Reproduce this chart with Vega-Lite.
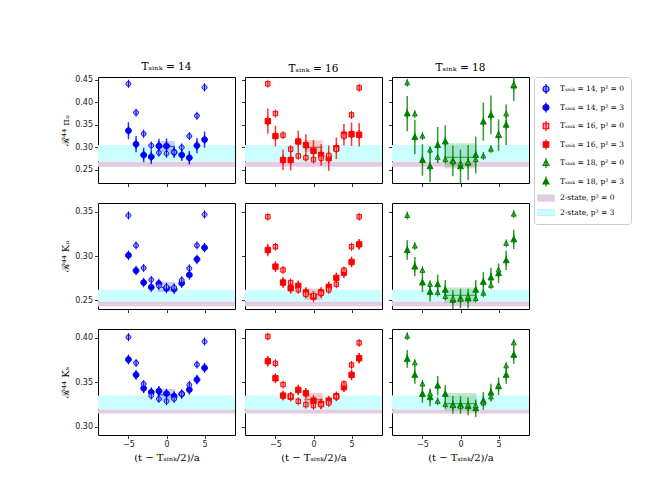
{
"$schema":"https://vega.github.io/schema/vega-lite/v6.json",
"padding":{"left":60,"top":61,"right":5,"bottom":5},
"datasets":{
"pts":[
{"r":1,"T":14,"p":3,"s":"14_3","t":-5,"v":0.337,"e":0.019},{"r":1,"T":14,"p":3,"s":"14_3","t":-4,"v":0.307,"e":0.018},{"r":1,"T":14,"p":3,"s":"14_3","t":-3,"v":0.283,"e":0.016},{"r":1,"T":14,"p":3,"s":"14_3","t":-2,"v":0.279,"e":0.016},{"r":1,"T":14,"p":3,"s":"14_3","t":-1,"v":0.303,"e":0.016},{"r":1,"T":14,"p":3,"s":"14_3","t":0,"v":0.303,"e":0.017},{"r":1,"T":14,"p":3,"s":"14_3","t":1,"v":0.289,"e":0.012},{"r":1,"T":14,"p":3,"s":"14_3","t":2,"v":0.283,"e":0.013},{"r":1,"T":14,"p":3,"s":"14_3","t":3,"v":0.277,"e":0.015},{"r":1,"T":14,"p":3,"s":"14_3","t":4,"v":0.304,"e":0.017},{"r":1,"T":14,"p":3,"s":"14_3","t":5,"v":0.317,"e":0.018},
{"r":1,"T":14,"p":0,"s":"14_0","t":-5,"v":0.441},{"r":1,"T":14,"p":0,"s":"14_0","t":-4,"v":0.377},{"r":1,"T":14,"p":0,"s":"14_0","t":-3,"v":0.330},{"r":1,"T":14,"p":0,"s":"14_0","t":-2,"v":0.304},{"r":1,"T":14,"p":0,"s":"14_0","t":-1,"v":0.288},{"r":1,"T":14,"p":0,"s":"14_0","t":0,"v":0.286},{"r":1,"T":14,"p":0,"s":"14_0","t":1,"v":0.289},{"r":1,"T":14,"p":0,"s":"14_0","t":2,"v":0.300},{"r":1,"T":14,"p":0,"s":"14_0","t":3,"v":0.325},{"r":1,"T":14,"p":0,"s":"14_0","t":4,"v":0.370},{"r":1,"T":14,"p":0,"s":"14_0","t":5,"v":0.433},
{"r":1,"T":16,"p":3,"s":"16_3","t":-6,"v":0.358,"e":0.028},{"r":1,"T":16,"p":3,"s":"16_3","t":-5,"v":0.325,"e":0.023},{"r":1,"T":16,"p":3,"s":"16_3","t":-4,"v":0.272,"e":0.023},{"r":1,"T":16,"p":3,"s":"16_3","t":-3,"v":0.272,"e":0.023},{"r":1,"T":16,"p":3,"s":"16_3","t":-2,"v":0.313,"e":0.024},{"r":1,"T":16,"p":3,"s":"16_3","t":-1,"v":0.305,"e":0.024},{"r":1,"T":16,"p":3,"s":"16_3","t":0,"v":0.292,"e":0.024},{"r":1,"T":16,"p":3,"s":"16_3","t":1,"v":0.283,"e":0.024},{"r":1,"T":16,"p":3,"s":"16_3","t":2,"v":0.276,"e":0.028},{"r":1,"T":16,"p":3,"s":"16_3","t":3,"v":0.298,"e":0.024},{"r":1,"T":16,"p":3,"s":"16_3","t":4,"v":0.328,"e":0.024},{"r":1,"T":16,"p":3,"s":"16_3","t":5,"v":0.329,"e":0.026},{"r":1,"T":16,"p":3,"s":"16_3","t":6,"v":0.328,"e":0.026},
{"r":1,"T":16,"p":0,"s":"16_0","t":-6,"v":0.441},{"r":1,"T":16,"p":0,"s":"16_0","t":-5,"v":0.375},{"r":1,"T":16,"p":0,"s":"16_0","t":-4,"v":0.327},{"r":1,"T":16,"p":0,"s":"16_0","t":-3,"v":0.296},{"r":1,"T":16,"p":0,"s":"16_0","t":-2,"v":0.281},{"r":1,"T":16,"p":0,"s":"16_0","t":-1,"v":0.277},{"r":1,"T":16,"p":0,"s":"16_0","t":0,"v":0.273},{"r":1,"T":16,"p":0,"s":"16_0","t":1,"v":0.276},{"r":1,"T":16,"p":0,"s":"16_0","t":2,"v":0.282},{"r":1,"T":16,"p":0,"s":"16_0","t":3,"v":0.296},{"r":1,"T":16,"p":0,"s":"16_0","t":4,"v":0.325},{"r":1,"T":16,"p":0,"s":"16_0","t":5,"v":0.372},{"r":1,"T":16,"p":0,"s":"16_0","t":6,"v":0.432},
{"r":1,"T":18,"p":3,"s":"18_3","t":-7,"v":0.375,"e":0.039},{"r":1,"T":18,"p":3,"s":"18_3","t":-6,"v":0.323,"e":0.038},{"r":1,"T":18,"p":3,"s":"18_3","t":-5,"v":0.272,"e":0.035},{"r":1,"T":18,"p":3,"s":"18_3","t":-4,"v":0.258,"e":0.035},{"r":1,"T":18,"p":3,"s":"18_3","t":-3,"v":0.305,"e":0.040},{"r":1,"T":18,"p":3,"s":"18_3","t":-2,"v":0.313,"e":0.036},{"r":1,"T":18,"p":3,"s":"18_3","t":-1,"v":0.270,"e":0.034},{"r":1,"T":18,"p":3,"s":"18_3","t":0,"v":0.258,"e":0.037},{"r":1,"T":18,"p":3,"s":"18_3","t":1,"v":0.266,"e":0.039},{"r":1,"T":18,"p":3,"s":"18_3","t":2,"v":0.283,"e":0.041},{"r":1,"T":18,"p":3,"s":"18_3","t":3,"v":0.357,"e":0.042},{"r":1,"T":18,"p":3,"s":"18_3","t":4,"v":0.372,"e":0.043},{"r":1,"T":18,"p":3,"s":"18_3","t":5,"v":0.327,"e":0.035},{"r":1,"T":18,"p":3,"s":"18_3","t":6,"v":0.350,"e":0.045},{"r":1,"T":18,"p":3,"s":"18_3","t":7,"v":0.437,"e":0.034},
{"r":1,"T":18,"p":0,"s":"18_0","t":-7,"v":0.443},{"r":1,"T":18,"p":0,"s":"18_0","t":-6,"v":0.374},{"r":1,"T":18,"p":0,"s":"18_0","t":-5,"v":0.325},{"r":1,"T":18,"p":0,"s":"18_0","t":-4,"v":0.294},{"r":1,"T":18,"p":0,"s":"18_0","t":-3,"v":0.278},{"r":1,"T":18,"p":0,"s":"18_0","t":-2,"v":0.273},{"r":1,"T":18,"p":0,"s":"18_0","t":-1,"v":0.268},{"r":1,"T":18,"p":0,"s":"18_0","t":0,"v":0.264},{"r":1,"T":18,"p":0,"s":"18_0","t":1,"v":0.267},{"r":1,"T":18,"p":0,"s":"18_0","t":2,"v":0.273},{"r":1,"T":18,"p":0,"s":"18_0","t":3,"v":0.281},{"r":1,"T":18,"p":0,"s":"18_0","t":4,"v":0.296},{"r":1,"T":18,"p":0,"s":"18_0","t":5,"v":0.329},{"r":1,"T":18,"p":0,"s":"18_0","t":6,"v":0.374},{"r":1,"T":18,"p":0,"s":"18_0","t":7,"v":0.439},
{"r":2,"T":14,"p":3,"s":"14_3","t":-5,"v":0.3008,"e":0.004},{"r":2,"T":14,"p":3,"s":"14_3","t":-4,"v":0.2835,"e":0.004},{"r":2,"T":14,"p":3,"s":"14_3","t":-3,"v":0.270,"e":0.0035},{"r":2,"T":14,"p":3,"s":"14_3","t":-2,"v":0.2647,"e":0.0035},{"r":2,"T":14,"p":3,"s":"14_3","t":-1,"v":0.2688,"e":0.0035},{"r":2,"T":14,"p":3,"s":"14_3","t":0,"v":0.2632,"e":0.0035},{"r":2,"T":14,"p":3,"s":"14_3","t":1,"v":0.2624,"e":0.0035},{"r":2,"T":14,"p":3,"s":"14_3","t":2,"v":0.2692,"e":0.0035},{"r":2,"T":14,"p":3,"s":"14_3","t":3,"v":0.2786,"e":0.0035},{"r":2,"T":14,"p":3,"s":"14_3","t":4,"v":0.2962,"e":0.004},{"r":2,"T":14,"p":3,"s":"14_3","t":5,"v":0.3094,"e":0.004},
{"r":2,"T":14,"p":0,"s":"14_0","t":-5,"v":0.3459},{"r":2,"T":14,"p":0,"s":"14_0","t":-4,"v":0.312},{"r":2,"T":14,"p":0,"s":"14_0","t":-3,"v":0.2865},{"r":2,"T":14,"p":0,"s":"14_0","t":-2,"v":0.273},{"r":2,"T":14,"p":0,"s":"14_0","t":-1,"v":0.2662},{"r":2,"T":14,"p":0,"s":"14_0","t":0,"v":0.265},{"r":2,"T":14,"p":0,"s":"14_0","t":1,"v":0.2643},{"r":2,"T":14,"p":0,"s":"14_0","t":2,"v":0.2726},{"r":2,"T":14,"p":0,"s":"14_0","t":3,"v":0.286},{"r":2,"T":14,"p":0,"s":"14_0","t":4,"v":0.312},{"r":2,"T":14,"p":0,"s":"14_0","t":5,"v":0.347},
{"r":2,"T":16,"p":3,"s":"16_3","t":-6,"v":0.3068,"e":0.007},{"r":2,"T":16,"p":3,"s":"16_3","t":-5,"v":0.288,"e":0.006},{"r":2,"T":16,"p":3,"s":"16_3","t":-4,"v":0.270,"e":0.006},{"r":2,"T":16,"p":3,"s":"16_3","t":-3,"v":0.2635,"e":0.006},{"r":2,"T":16,"p":3,"s":"16_3","t":-2,"v":0.2662,"e":0.006},{"r":2,"T":16,"p":3,"s":"16_3","t":-1,"v":0.2587,"e":0.006},{"r":2,"T":16,"p":3,"s":"16_3","t":0,"v":0.2541,"e":0.006},{"r":2,"T":16,"p":3,"s":"16_3","t":1,"v":0.2587,"e":0.006},{"r":2,"T":16,"p":3,"s":"16_3","t":2,"v":0.265,"e":0.006},{"r":2,"T":16,"p":3,"s":"16_3","t":3,"v":0.2752,"e":0.006},{"r":2,"T":16,"p":3,"s":"16_3","t":4,"v":0.2812,"e":0.006},{"r":2,"T":16,"p":3,"s":"16_3","t":5,"v":0.2932,"e":0.006},{"r":2,"T":16,"p":3,"s":"16_3","t":6,"v":0.3132,"e":0.006},
{"r":2,"T":16,"p":0,"s":"16_0","t":-6,"v":0.3444},{"r":2,"T":16,"p":0,"s":"16_0","t":-5,"v":0.3105},{"r":2,"T":16,"p":0,"s":"16_0","t":-4,"v":0.2842},{"r":2,"T":16,"p":0,"s":"16_0","t":-3,"v":0.270},{"r":2,"T":16,"p":0,"s":"16_0","t":-2,"v":0.2617},{"r":2,"T":16,"p":0,"s":"16_0","t":-1,"v":0.2568},{"r":2,"T":16,"p":0,"s":"16_0","t":0,"v":0.2549},{"r":2,"T":16,"p":0,"s":"16_0","t":1,"v":0.2579},{"r":2,"T":16,"p":0,"s":"16_0","t":2,"v":0.2617},{"r":2,"T":16,"p":0,"s":"16_0","t":3,"v":0.268},{"r":2,"T":16,"p":0,"s":"16_0","t":4,"v":0.2838},{"r":2,"T":16,"p":0,"s":"16_0","t":5,"v":0.3105},{"r":2,"T":16,"p":0,"s":"16_0","t":6,"v":0.3444},
{"r":2,"T":18,"p":3,"s":"18_3","t":-7,"v":0.3068,"e":0.011},{"r":2,"T":18,"p":3,"s":"18_3","t":-6,"v":0.288,"e":0.011},{"r":2,"T":18,"p":3,"s":"18_3","t":-5,"v":0.270,"e":0.011},{"r":2,"T":18,"p":3,"s":"18_3","t":-4,"v":0.2594,"e":0.011},{"r":2,"T":18,"p":3,"s":"18_3","t":-3,"v":0.268,"e":0.011},{"r":2,"T":18,"p":3,"s":"18_3","t":-2,"v":0.2617,"e":0.011},{"r":2,"T":18,"p":3,"s":"18_3","t":-1,"v":0.2504,"e":0.011},{"r":2,"T":18,"p":3,"s":"18_3","t":0,"v":0.2519,"e":0.011},{"r":2,"T":18,"p":3,"s":"18_3","t":1,"v":0.2519,"e":0.011},{"r":2,"T":18,"p":3,"s":"18_3","t":2,"v":0.2617,"e":0.011},{"r":2,"T":18,"p":3,"s":"18_3","t":3,"v":0.2707,"e":0.011},{"r":2,"T":18,"p":3,"s":"18_3","t":4,"v":0.2756,"e":0.011},{"r":2,"T":18,"p":3,"s":"18_3","t":5,"v":0.2805,"e":0.011},{"r":2,"T":18,"p":3,"s":"18_3","t":6,"v":0.2951,"e":0.011},{"r":2,"T":18,"p":3,"s":"18_3","t":7,"v":0.3188,"e":0.011},
{"r":2,"T":18,"p":0,"s":"18_0","t":-7,"v":0.3459},{"r":2,"T":18,"p":0,"s":"18_0","t":-6,"v":0.3113},{"r":2,"T":18,"p":0,"s":"18_0","t":-5,"v":0.2838},{"r":2,"T":18,"p":0,"s":"18_0","t":-4,"v":0.268},{"r":2,"T":18,"p":0,"s":"18_0","t":-3,"v":0.2586},{"r":2,"T":18,"p":0,"s":"18_0","t":-2,"v":0.2541},{"r":2,"T":18,"p":0,"s":"18_0","t":-1,"v":0.2519},{"r":2,"T":18,"p":0,"s":"18_0","t":0,"v":0.2511},{"r":2,"T":18,"p":0,"s":"18_0","t":1,"v":0.2541},{"r":2,"T":18,"p":0,"s":"18_0","t":2,"v":0.2519},{"r":2,"T":18,"p":0,"s":"18_0","t":3,"v":0.2579},{"r":2,"T":18,"p":0,"s":"18_0","t":4,"v":0.2669},{"r":2,"T":18,"p":0,"s":"18_0","t":5,"v":0.2842},{"r":2,"T":18,"p":0,"s":"18_0","t":6,"v":0.3143},{"r":2,"T":18,"p":0,"s":"18_0","t":7,"v":0.3474},
{"r":3,"T":14,"p":3,"s":"14_3","t":-5,"v":0.3756,"e":0.005},{"r":3,"T":14,"p":3,"s":"14_3","t":-4,"v":0.3583,"e":0.005},{"r":3,"T":14,"p":3,"s":"14_3","t":-3,"v":0.3432,"e":0.005},{"r":3,"T":14,"p":3,"s":"14_3","t":-2,"v":0.3387,"e":0.005},{"r":3,"T":14,"p":3,"s":"14_3","t":-1,"v":0.3402,"e":0.005},{"r":3,"T":14,"p":3,"s":"14_3","t":0,"v":0.3372,"e":0.005},{"r":3,"T":14,"p":3,"s":"14_3","t":1,"v":0.3342,"e":0.005},{"r":3,"T":14,"p":3,"s":"14_3","t":2,"v":0.3368,"e":0.004},{"r":3,"T":14,"p":3,"s":"14_3","t":3,"v":0.3417,"e":0.005},{"r":3,"T":14,"p":3,"s":"14_3","t":4,"v":0.353,"e":0.005},{"r":3,"T":14,"p":3,"s":"14_3","t":5,"v":0.3662,"e":0.005},
{"r":3,"T":14,"p":0,"s":"14_0","t":-5,"v":0.4008},{"r":3,"T":14,"p":0,"s":"14_0","t":-4,"v":0.3718},{"r":3,"T":14,"p":0,"s":"14_0","t":-3,"v":0.3481},{"r":3,"T":14,"p":0,"s":"14_0","t":-2,"v":0.335},{"r":3,"T":14,"p":0,"s":"14_0","t":-1,"v":0.3312},{"r":3,"T":14,"p":0,"s":"14_0","t":0,"v":0.3286},{"r":3,"T":14,"p":0,"s":"14_0","t":1,"v":0.3312},{"r":3,"T":14,"p":0,"s":"14_0","t":2,"v":0.3368},{"r":3,"T":14,"p":0,"s":"14_0","t":3,"v":0.347},{"r":3,"T":14,"p":0,"s":"14_0","t":4,"v":0.3699},{"r":3,"T":14,"p":0,"s":"14_0","t":5,"v":0.3959},
{"r":3,"T":16,"p":3,"s":"16_3","t":-6,"v":0.3737,"e":0.006},{"r":3,"T":16,"p":3,"s":"16_3","t":-5,"v":0.3545,"e":0.005},{"r":3,"T":16,"p":3,"s":"16_3","t":-4,"v":0.335,"e":0.005},{"r":3,"T":16,"p":3,"s":"16_3","t":-3,"v":0.3338,"e":0.005},{"r":3,"T":16,"p":3,"s":"16_3","t":-2,"v":0.3414,"e":0.006},{"r":3,"T":16,"p":3,"s":"16_3","t":-1,"v":0.3376,"e":0.006},{"r":3,"T":16,"p":3,"s":"16_3","t":0,"v":0.3293,"e":0.006},{"r":3,"T":16,"p":3,"s":"16_3","t":1,"v":0.3256,"e":0.006},{"r":3,"T":16,"p":3,"s":"16_3","t":2,"v":0.3293,"e":0.005},{"r":3,"T":16,"p":3,"s":"16_3","t":3,"v":0.3342,"e":0.005},{"r":3,"T":16,"p":3,"s":"16_3","t":4,"v":0.3444,"e":0.005},{"r":3,"T":16,"p":3,"s":"16_3","t":5,"v":0.3583,"e":0.006},{"r":3,"T":16,"p":3,"s":"16_3","t":6,"v":0.3771,"e":0.006},
{"r":3,"T":16,"p":0,"s":"16_0","t":-6,"v":0.4015},{"r":3,"T":16,"p":0,"s":"16_0","t":-5,"v":0.3714},{"r":3,"T":16,"p":0,"s":"16_0","t":-4,"v":0.3474},{"r":3,"T":16,"p":0,"s":"16_0","t":-3,"v":0.3342},{"r":3,"T":16,"p":0,"s":"16_0","t":-2,"v":0.3286},{"r":3,"T":16,"p":0,"s":"16_0","t":-1,"v":0.3248},{"r":3,"T":16,"p":0,"s":"16_0","t":0,"v":0.3237},{"r":3,"T":16,"p":0,"s":"16_0","t":1,"v":0.3248},{"r":3,"T":16,"p":0,"s":"16_0","t":2,"v":0.3267},{"r":3,"T":16,"p":0,"s":"16_0","t":3,"v":0.3338},{"r":3,"T":16,"p":0,"s":"16_0","t":4,"v":0.3481},{"r":3,"T":16,"p":0,"s":"16_0","t":5,"v":0.3695},{"r":3,"T":16,"p":0,"s":"16_0","t":6,"v":0.3944},
{"r":3,"T":18,"p":3,"s":"18_3","t":-7,"v":0.3763,"e":0.01},{"r":3,"T":18,"p":3,"s":"18_3","t":-6,"v":0.3583,"e":0.01},{"r":3,"T":18,"p":3,"s":"18_3","t":-5,"v":0.3368,"e":0.01},{"r":3,"T":18,"p":3,"s":"18_3","t":-4,"v":0.3331,"e":0.01},{"r":3,"T":18,"p":3,"s":"18_3","t":-3,"v":0.3462,"e":0.011},{"r":3,"T":18,"p":3,"s":"18_3","t":-2,"v":0.3368,"e":0.01},{"r":3,"T":18,"p":3,"s":"18_3","t":-1,"v":0.3244,"e":0.01},{"r":3,"T":18,"p":3,"s":"18_3","t":0,"v":0.3244,"e":0.01},{"r":3,"T":18,"p":3,"s":"18_3","t":1,"v":0.3229,"e":0.01},{"r":3,"T":18,"p":3,"s":"18_3","t":2,"v":0.3207,"e":0.01},{"r":3,"T":18,"p":3,"s":"18_3","t":3,"v":0.329,"e":0.01},{"r":3,"T":18,"p":3,"s":"18_3","t":4,"v":0.3383,"e":0.01},{"r":3,"T":18,"p":3,"s":"18_3","t":5,"v":0.3455,"e":0.01},{"r":3,"T":18,"p":3,"s":"18_3","t":6,"v":0.3583,"e":0.01},{"r":3,"T":18,"p":3,"s":"18_3","t":7,"v":0.3808,"e":0.01},
{"r":3,"T":18,"p":0,"s":"18_0","t":-7,"v":0.4019},{"r":3,"T":18,"p":0,"s":"18_0","t":-6,"v":0.3718},{"r":3,"T":18,"p":0,"s":"18_0","t":-5,"v":0.3481},{"r":3,"T":18,"p":0,"s":"18_0","t":-4,"v":0.337},{"r":3,"T":18,"p":0,"s":"18_0","t":-3,"v":0.3286},{"r":3,"T":18,"p":0,"s":"18_0","t":-2,"v":0.3248},{"r":3,"T":18,"p":0,"s":"18_0","t":-1,"v":0.3237},{"r":3,"T":18,"p":0,"s":"18_0","t":0,"v":0.3229},{"r":3,"T":18,"p":0,"s":"18_0","t":1,"v":0.3244},{"r":3,"T":18,"p":0,"s":"18_0","t":2,"v":0.3237},{"r":3,"T":18,"p":0,"s":"18_0","t":3,"v":0.3267},{"r":3,"T":18,"p":0,"s":"18_0","t":4,"v":0.3335},{"r":3,"T":18,"p":0,"s":"18_0","t":5,"v":0.3466},{"r":3,"T":18,"p":0,"s":"18_0","t":6,"v":0.3684},{"r":3,"T":18,"p":0,"s":"18_0","t":7,"v":0.3944}
],
"fits":[
{"r":1,"T":14,"s":"14_3","t":-1.2,"t2":1.1,"v":0.290,"v2":0.314},{"r":1,"T":16,"s":"16_3","t":-1.2,"t2":1.2,"v":0.290,"v2":0.316},{"r":1,"T":18,"s":"18_3","t":-2.1,"t2":2.1,"v":0.253,"v2":0.309},
{"r":2,"T":14,"s":"14_3","t":-1.2,"t2":1.1,"v":0.2594,"v2":0.2707},{"r":2,"T":16,"s":"16_3","t":-1.2,"t2":1.2,"v":0.2504,"v2":0.2632},{"r":2,"T":18,"s":"18_3","t":-2.1,"t2":2.1,"v":0.2474,"v2":0.2643},
{"r":3,"T":14,"s":"14_3","t":-1.2,"t2":1.1,"v":0.3293,"v2":0.3425},{"r":3,"T":16,"s":"16_3","t":-1.2,"t2":1.2,"v":0.3244,"v2":0.338},{"r":3,"T":18,"s":"18_3","t":-2.1,"t2":2.1,"v":0.318,"v2":0.338}
],
"fitc":[
{"r":1,"T":14,"s":"14_3","t":-1.2,"t2":1.1,"v":0.302},{"r":1,"T":16,"s":"16_3","t":-1.2,"t2":1.2,"v":0.300},{"r":1,"T":18,"s":"18_3","t":-2.1,"t2":2.1,"v":0.278},
{"r":2,"T":14,"s":"14_3","t":-1.2,"t2":1.1,"v":0.2645},{"r":2,"T":16,"s":"16_3","t":-1.2,"t2":1.2,"v":0.2568},{"r":2,"T":18,"s":"18_3","t":-2.1,"t2":2.1,"v":0.2555},
{"r":3,"T":14,"s":"14_3","t":-1.2,"t2":1.1,"v":0.336},{"r":3,"T":16,"s":"16_3","t":-1.2,"t2":1.2,"v":0.3305},{"r":3,"T":18,"s":"18_3","t":-2.1,"t2":2.1,"v":0.326}
],
"bands":[
{"r":1,"s":"2s_0","v":0.257,"v2":0.268},{"r":1,"s":"2s_3","v":0.269,"v2":0.305},
{"r":2,"s":"2s_0","v":0.2432,"v2":0.2485},{"r":2,"s":"2s_3","v":0.2488,"v2":0.2617},
{"r":3,"s":"2s_0","v":0.3147,"v2":0.3192},{"r":3,"s":"2s_3","v":0.3195,"v2":0.335}
]
},
"columns":3,
"spacing":{"row":14,"column":4},
"resolve":{"scale":{"color":"shared","fill":"shared","shape":"shared"},"legend":{"color":"shared","fill":"shared","shape":"shared"}},
"concat":[
{"width":137,"height":106,"title":"Tₛᵢₙₖ = 14",
"encoding":{"x":{"field":"t","type":"quantitative","scale":{"domain":[-9,9],"nice":false,"zero":false},"axis":{"values":[-5,0,5],"labels":false,"title":null}},"y":{"field":"v","type":"quantitative","scale":{"domain":[0.221,0.456],"nice":false,"zero":false},"axis":{"values":[0.25,0.3,0.35,0.4,0.45],"format":".2f","title":"ℛ⁴⁴ πᵤ"}}},
"layer":[
{"data":{"name":"bands"},"transform":[{"filter":"datum.r==1"}],"mark":"rect","encoding":{"x":{"value":0},"x2":{"value":"width"},"y2":{"field":"v2"},"fill":{"field":"s","type":"nominal","scale":{"domain":["14_0","14_3","16_0","16_3","18_0","18_3","2s_0","2s_3"],"range":["#a8a8ff","#0000ff","#ffa8a8","#ff0000","#80c080","#008000","#e3cbe3","#ccffff"]}}}},
{"data":{"name":"fits"},"transform":[{"filter":"datum.r==1&&datum.T==14"}],"mark":{"type":"rect","fillOpacity":0.2},"encoding":{"x2":{"field":"t2"},"y2":{"field":"v2"},"fill":{"field":"s","type":"nominal"}}},
{"data":{"name":"fitc"},"transform":[{"filter":"datum.r==1&&datum.T==14"}],"mark":{"type":"rule","strokeWidth":1.3,"strokeOpacity":0.6},"encoding":{"x2":{"field":"t2"},"color":{"field":"s","type":"nominal"}}},
{"data":{"name":"pts"},"transform":[{"filter":"datum.r==1&&datum.T==14&&datum.p==3"}],"mark":{"type":"errorbar","thickness":1.5,"opacity":0.8,"clip":true},"encoding":{"yError":{"field":"e"},"color":{"field":"s","type":"nominal"}}},
{"data":{"name":"pts"},"transform":[{"filter":"datum.r==1&&datum.T==14"}],"mark":{"type":"point","opacity":1,"strokeWidth":1},"encoding":{
"color":{"field":"s","type":"nominal","scale":{"domain":["14_0","14_3","16_0","16_3","18_0","18_3","2s_0","2s_3"],"range":["#0000ff","#0000ff","#ff0000","#ff0000","#008000","#008000","#dcc4dc","#b8f4f4"]},"legend":{"title":null,"labelExpr":"datum.label=='14_0'?'Tₛᵢₙₖ = 14, p² = 0':datum.label=='14_3'?'Tₛᵢₙₖ = 14, p² = 3':datum.label=='16_0'?'Tₛᵢₙₖ = 16, p² = 0':datum.label=='16_3'?'Tₛᵢₙₖ = 16, p² = 3':datum.label=='18_0'?'Tₛᵢₙₖ = 18, p² = 0':datum.label=='18_3'?'Tₛᵢₙₖ = 18, p² = 3':datum.label=='2s_0'?'2-state, p² = 0':'2-state, p² = 3'"}},
"fill":{"field":"s","type":"nominal","legend":{"title":null,"labelExpr":"datum.label=='14_0'?'Tₛᵢₙₖ = 14, p² = 0':datum.label=='14_3'?'Tₛᵢₙₖ = 14, p² = 3':datum.label=='16_0'?'Tₛᵢₙₖ = 16, p² = 0':datum.label=='16_3'?'Tₛᵢₙₖ = 16, p² = 3':datum.label=='18_0'?'Tₛᵢₙₖ = 18, p² = 0':datum.label=='18_3'?'Tₛᵢₙₖ = 18, p² = 3':datum.label=='2s_0'?'2-state, p² = 0':'2-state, p² = 3'"}},
"shape":{"field":"s","type":"nominal","scale":{"domain":["14_0","14_3","16_0","16_3","18_0","18_3","2s_0","2s_3"],"range":["M0,-1V1M-0.6,0A0.6,0.6 0 1,1 0.6,0A0.6,0.6 0 1,1 -0.6,0Z","M0,-1V1M-0.6,0A0.6,0.6 0 1,1 0.6,0A0.6,0.6 0 1,1 -0.6,0Z","M0,-1V1M-0.55,-0.55H0.55V0.55H-0.55Z","M0,-1V1M-0.55,-0.55H0.55V0.55H-0.55Z","M0,-1V1M0,-0.65L0.6,0.5H-0.6Z","M0,-1V1M0,-0.65L0.6,0.5H-0.6Z","M-1.6,-0.6H1.6V0.6H-1.6Z","M-1.6,-0.6H1.6V0.6H-1.6Z"]},"legend":{"title":null,"labelExpr":"datum.label=='14_0'?'Tₛᵢₙₖ = 14, p² = 0':datum.label=='14_3'?'Tₛᵢₙₖ = 14, p² = 3':datum.label=='16_0'?'Tₛᵢₙₖ = 16, p² = 0':datum.label=='16_3'?'Tₛᵢₙₖ = 16, p² = 3':datum.label=='18_0'?'Tₛᵢₙₖ = 18, p² = 0':datum.label=='18_3'?'Tₛᵢₙₖ = 18, p² = 3':datum.label=='2s_0'?'2-state, p² = 0':'2-state, p² = 3'"}},
"size":{"field":"p","type":"nominal","scale":{"domain":[0,3],"range":[65,95]},"legend":null}}}
]},
{"width":137,"height":106,"title":"Tₛᵢₙₖ = 16",
"encoding":{"x":{"field":"t","type":"quantitative","scale":{"domain":[-9,9],"nice":false,"zero":false},"axis":{"values":[-5,0,5],"labels":false,"title":null}},"y":{"field":"v","type":"quantitative","scale":{"domain":[0.221,0.456],"nice":false,"zero":false},"axis":{"values":[0.25,0.3,0.35,0.4,0.45],"labels":false,"title":null}}},
"layer":[
{"data":{"name":"bands"},"transform":[{"filter":"datum.r==1"}],"mark":"rect","encoding":{"x":{"value":0},"x2":{"value":"width"},"y2":{"field":"v2"},"fill":{"field":"s","type":"nominal"}}},
{"data":{"name":"fits"},"transform":[{"filter":"datum.r==1&&datum.T==16"}],"mark":{"type":"rect","fillOpacity":0.2},"encoding":{"x2":{"field":"t2"},"y2":{"field":"v2"},"fill":{"field":"s","type":"nominal"}}},
{"data":{"name":"fitc"},"transform":[{"filter":"datum.r==1&&datum.T==16"}],"mark":{"type":"rule","strokeWidth":1.3,"strokeOpacity":0.6},"encoding":{"x2":{"field":"t2"},"color":{"field":"s","type":"nominal"}}},
{"data":{"name":"pts"},"transform":[{"filter":"datum.r==1&&datum.T==16&&datum.p==3"}],"mark":{"type":"errorbar","thickness":1.5,"opacity":0.8,"clip":true},"encoding":{"yError":{"field":"e"},"color":{"field":"s","type":"nominal"}}},
{"data":{"name":"pts"},"transform":[{"filter":"datum.r==1&&datum.T==16"}],"mark":{"type":"point","opacity":1,"strokeWidth":1},"encoding":{"color":{"field":"s","type":"nominal"},"fill":{"field":"s","type":"nominal"},"shape":{"field":"s","type":"nominal"},"size":{"field":"p","type":"nominal","scale":{"domain":[0,3],"range":[65,95]},"legend":null}}}
]},
{"width":137,"height":106,"title":"Tₛᵢₙₖ = 18",
"encoding":{"x":{"field":"t","type":"quantitative","scale":{"domain":[-9,9],"nice":false,"zero":false},"axis":{"values":[-5,0,5],"labels":false,"title":null}},"y":{"field":"v","type":"quantitative","scale":{"domain":[0.221,0.456],"nice":false,"zero":false},"axis":{"values":[0.25,0.3,0.35,0.4,0.45],"labels":false,"title":null}}},
"layer":[
{"data":{"name":"bands"},"transform":[{"filter":"datum.r==1"}],"mark":"rect","encoding":{"x":{"value":0},"x2":{"value":"width"},"y2":{"field":"v2"},"fill":{"field":"s","type":"nominal"}}},
{"data":{"name":"fits"},"transform":[{"filter":"datum.r==1&&datum.T==18"}],"mark":{"type":"rect","fillOpacity":0.2},"encoding":{"x2":{"field":"t2"},"y2":{"field":"v2"},"fill":{"field":"s","type":"nominal"}}},
{"data":{"name":"fitc"},"transform":[{"filter":"datum.r==1&&datum.T==18"}],"mark":{"type":"rule","strokeWidth":1.3,"strokeOpacity":0.6},"encoding":{"x2":{"field":"t2"},"color":{"field":"s","type":"nominal"}}},
{"data":{"name":"pts"},"transform":[{"filter":"datum.r==1&&datum.T==18&&datum.p==3"}],"mark":{"type":"errorbar","thickness":1.5,"opacity":0.8,"clip":true},"encoding":{"yError":{"field":"e"},"color":{"field":"s","type":"nominal"}}},
{"data":{"name":"pts"},"transform":[{"filter":"datum.r==1&&datum.T==18"}],"mark":{"type":"point","opacity":1,"strokeWidth":1},"encoding":{"color":{"field":"s","type":"nominal"},"fill":{"field":"s","type":"nominal"},"shape":{"field":"s","type":"nominal"},"size":{"field":"p","type":"nominal","scale":{"domain":[0,3],"range":[65,95]},"legend":null}}}
]},
{"width":137,"height":106,
"encoding":{"x":{"field":"t","type":"quantitative","scale":{"domain":[-9,9],"nice":false,"zero":false},"axis":{"values":[-5,0,5],"labels":false,"title":null}},"y":{"field":"v","type":"quantitative","scale":{"domain":[0.24,0.36],"nice":false,"zero":false},"axis":{"values":[0.25,0.3,0.35],"format":".2f","title":"ℛ⁴⁴ Kᵤ"}}},
"layer":[
{"data":{"name":"bands"},"transform":[{"filter":"datum.r==2"}],"mark":"rect","encoding":{"x":{"value":0},"x2":{"value":"width"},"y2":{"field":"v2"},"fill":{"field":"s","type":"nominal"}}},
{"data":{"name":"fits"},"transform":[{"filter":"datum.r==2&&datum.T==14"}],"mark":{"type":"rect","fillOpacity":0.2},"encoding":{"x2":{"field":"t2"},"y2":{"field":"v2"},"fill":{"field":"s","type":"nominal"}}},
{"data":{"name":"fitc"},"transform":[{"filter":"datum.r==2&&datum.T==14"}],"mark":{"type":"rule","strokeWidth":1.3,"strokeOpacity":0.6},"encoding":{"x2":{"field":"t2"},"color":{"field":"s","type":"nominal"}}},
{"data":{"name":"pts"},"transform":[{"filter":"datum.r==2&&datum.T==14&&datum.p==3"}],"mark":{"type":"errorbar","thickness":1.5,"opacity":0.8,"clip":true},"encoding":{"yError":{"field":"e"},"color":{"field":"s","type":"nominal"}}},
{"data":{"name":"pts"},"transform":[{"filter":"datum.r==2&&datum.T==14"}],"mark":{"type":"point","opacity":1,"strokeWidth":1},"encoding":{"color":{"field":"s","type":"nominal"},"fill":{"field":"s","type":"nominal"},"shape":{"field":"s","type":"nominal"},"size":{"field":"p","type":"nominal","scale":{"domain":[0,3],"range":[65,95]},"legend":null}}}
]},
{"width":137,"height":106,
"encoding":{"x":{"field":"t","type":"quantitative","scale":{"domain":[-9,9],"nice":false,"zero":false},"axis":{"values":[-5,0,5],"labels":false,"title":null}},"y":{"field":"v","type":"quantitative","scale":{"domain":[0.24,0.36],"nice":false,"zero":false},"axis":{"values":[0.25,0.3,0.35],"labels":false,"title":null}}},
"layer":[
{"data":{"name":"bands"},"transform":[{"filter":"datum.r==2"}],"mark":"rect","encoding":{"x":{"value":0},"x2":{"value":"width"},"y2":{"field":"v2"},"fill":{"field":"s","type":"nominal"}}},
{"data":{"name":"fits"},"transform":[{"filter":"datum.r==2&&datum.T==16"}],"mark":{"type":"rect","fillOpacity":0.2},"encoding":{"x2":{"field":"t2"},"y2":{"field":"v2"},"fill":{"field":"s","type":"nominal"}}},
{"data":{"name":"fitc"},"transform":[{"filter":"datum.r==2&&datum.T==16"}],"mark":{"type":"rule","strokeWidth":1.3,"strokeOpacity":0.6},"encoding":{"x2":{"field":"t2"},"color":{"field":"s","type":"nominal"}}},
{"data":{"name":"pts"},"transform":[{"filter":"datum.r==2&&datum.T==16&&datum.p==3"}],"mark":{"type":"errorbar","thickness":1.5,"opacity":0.8,"clip":true},"encoding":{"yError":{"field":"e"},"color":{"field":"s","type":"nominal"}}},
{"data":{"name":"pts"},"transform":[{"filter":"datum.r==2&&datum.T==16"}],"mark":{"type":"point","opacity":1,"strokeWidth":1},"encoding":{"color":{"field":"s","type":"nominal"},"fill":{"field":"s","type":"nominal"},"shape":{"field":"s","type":"nominal"},"size":{"field":"p","type":"nominal","scale":{"domain":[0,3],"range":[65,95]},"legend":null}}}
]},
{"width":137,"height":106,
"encoding":{"x":{"field":"t","type":"quantitative","scale":{"domain":[-9,9],"nice":false,"zero":false},"axis":{"values":[-5,0,5],"labels":false,"title":null}},"y":{"field":"v","type":"quantitative","scale":{"domain":[0.24,0.36],"nice":false,"zero":false},"axis":{"values":[0.25,0.3,0.35],"labels":false,"title":null}}},
"layer":[
{"data":{"name":"bands"},"transform":[{"filter":"datum.r==2"}],"mark":"rect","encoding":{"x":{"value":0},"x2":{"value":"width"},"y2":{"field":"v2"},"fill":{"field":"s","type":"nominal"}}},
{"data":{"name":"fits"},"transform":[{"filter":"datum.r==2&&datum.T==18"}],"mark":{"type":"rect","fillOpacity":0.2},"encoding":{"x2":{"field":"t2"},"y2":{"field":"v2"},"fill":{"field":"s","type":"nominal"}}},
{"data":{"name":"fitc"},"transform":[{"filter":"datum.r==2&&datum.T==18"}],"mark":{"type":"rule","strokeWidth":1.3,"strokeOpacity":0.6},"encoding":{"x2":{"field":"t2"},"color":{"field":"s","type":"nominal"}}},
{"data":{"name":"pts"},"transform":[{"filter":"datum.r==2&&datum.T==18&&datum.p==3"}],"mark":{"type":"errorbar","thickness":1.5,"opacity":0.8,"clip":true},"encoding":{"yError":{"field":"e"},"color":{"field":"s","type":"nominal"}}},
{"data":{"name":"pts"},"transform":[{"filter":"datum.r==2&&datum.T==18"}],"mark":{"type":"point","opacity":1,"strokeWidth":1},"encoding":{"color":{"field":"s","type":"nominal"},"fill":{"field":"s","type":"nominal"},"shape":{"field":"s","type":"nominal"},"size":{"field":"p","type":"nominal","scale":{"domain":[0,3],"range":[65,95]},"legend":null}}}
]},
{"width":137,"height":106,
"encoding":{"x":{"field":"t","type":"quantitative","scale":{"domain":[-9,9],"nice":false,"zero":false},"axis":{"values":[-5,0,5],"title":"(t − Tₛᵢₙₖ/2)/a"}},"y":{"field":"v","type":"quantitative","scale":{"domain":[0.2906,0.41],"nice":false,"zero":false},"axis":{"values":[0.3,0.35,0.4],"format":".2f","title":"ℛ⁴⁴ Kₛ"}}},
"layer":[
{"data":{"name":"bands"},"transform":[{"filter":"datum.r==3"}],"mark":"rect","encoding":{"x":{"value":0},"x2":{"value":"width"},"y2":{"field":"v2"},"fill":{"field":"s","type":"nominal"}}},
{"data":{"name":"fits"},"transform":[{"filter":"datum.r==3&&datum.T==14"}],"mark":{"type":"rect","fillOpacity":0.2},"encoding":{"x2":{"field":"t2"},"y2":{"field":"v2"},"fill":{"field":"s","type":"nominal"}}},
{"data":{"name":"fitc"},"transform":[{"filter":"datum.r==3&&datum.T==14"}],"mark":{"type":"rule","strokeWidth":1.3,"strokeOpacity":0.6},"encoding":{"x2":{"field":"t2"},"color":{"field":"s","type":"nominal"}}},
{"data":{"name":"pts"},"transform":[{"filter":"datum.r==3&&datum.T==14&&datum.p==3"}],"mark":{"type":"errorbar","thickness":1.5,"opacity":0.8,"clip":true},"encoding":{"yError":{"field":"e"},"color":{"field":"s","type":"nominal"}}},
{"data":{"name":"pts"},"transform":[{"filter":"datum.r==3&&datum.T==14"}],"mark":{"type":"point","opacity":1,"strokeWidth":1},"encoding":{"color":{"field":"s","type":"nominal"},"fill":{"field":"s","type":"nominal"},"shape":{"field":"s","type":"nominal"},"size":{"field":"p","type":"nominal","scale":{"domain":[0,3],"range":[65,95]},"legend":null}}}
]},
{"width":137,"height":106,
"encoding":{"x":{"field":"t","type":"quantitative","scale":{"domain":[-9,9],"nice":false,"zero":false},"axis":{"values":[-5,0,5],"title":"(t − Tₛᵢₙₖ/2)/a"}},"y":{"field":"v","type":"quantitative","scale":{"domain":[0.2906,0.41],"nice":false,"zero":false},"axis":{"values":[0.3,0.35,0.4],"labels":false,"title":null}}},
"layer":[
{"data":{"name":"bands"},"transform":[{"filter":"datum.r==3"}],"mark":"rect","encoding":{"x":{"value":0},"x2":{"value":"width"},"y2":{"field":"v2"},"fill":{"field":"s","type":"nominal"}}},
{"data":{"name":"fits"},"transform":[{"filter":"datum.r==3&&datum.T==16"}],"mark":{"type":"rect","fillOpacity":0.2},"encoding":{"x2":{"field":"t2"},"y2":{"field":"v2"},"fill":{"field":"s","type":"nominal"}}},
{"data":{"name":"fitc"},"transform":[{"filter":"datum.r==3&&datum.T==16"}],"mark":{"type":"rule","strokeWidth":1.3,"strokeOpacity":0.6},"encoding":{"x2":{"field":"t2"},"color":{"field":"s","type":"nominal"}}},
{"data":{"name":"pts"},"transform":[{"filter":"datum.r==3&&datum.T==16&&datum.p==3"}],"mark":{"type":"errorbar","thickness":1.5,"opacity":0.8,"clip":true},"encoding":{"yError":{"field":"e"},"color":{"field":"s","type":"nominal"}}},
{"data":{"name":"pts"},"transform":[{"filter":"datum.r==3&&datum.T==16"}],"mark":{"type":"point","opacity":1,"strokeWidth":1},"encoding":{"color":{"field":"s","type":"nominal"},"fill":{"field":"s","type":"nominal"},"shape":{"field":"s","type":"nominal"},"size":{"field":"p","type":"nominal","scale":{"domain":[0,3],"range":[65,95]},"legend":null}}}
]},
{"width":137,"height":106,
"encoding":{"x":{"field":"t","type":"quantitative","scale":{"domain":[-9,9],"nice":false,"zero":false},"axis":{"values":[-5,0,5],"title":"(t − Tₛᵢₙₖ/2)/a"}},"y":{"field":"v","type":"quantitative","scale":{"domain":[0.2906,0.41],"nice":false,"zero":false},"axis":{"values":[0.3,0.35,0.4],"labels":false,"title":null}}},
"layer":[
{"data":{"name":"bands"},"transform":[{"filter":"datum.r==3"}],"mark":"rect","encoding":{"x":{"value":0},"x2":{"value":"width"},"y2":{"field":"v2"},"fill":{"field":"s","type":"nominal"}}},
{"data":{"name":"fits"},"transform":[{"filter":"datum.r==3&&datum.T==18"}],"mark":{"type":"rect","fillOpacity":0.2},"encoding":{"x2":{"field":"t2"},"y2":{"field":"v2"},"fill":{"field":"s","type":"nominal"}}},
{"data":{"name":"fitc"},"transform":[{"filter":"datum.r==3&&datum.T==18"}],"mark":{"type":"rule","strokeWidth":1.3,"strokeOpacity":0.6},"encoding":{"x2":{"field":"t2"},"color":{"field":"s","type":"nominal"}}},
{"data":{"name":"pts"},"transform":[{"filter":"datum.r==3&&datum.T==18&&datum.p==3"}],"mark":{"type":"errorbar","thickness":1.5,"opacity":0.8,"clip":true},"encoding":{"yError":{"field":"e"},"color":{"field":"s","type":"nominal"}}},
{"data":{"name":"pts"},"transform":[{"filter":"datum.r==3&&datum.T==18"}],"mark":{"type":"point","opacity":1,"strokeWidth":1},"encoding":{"color":{"field":"s","type":"nominal"},"fill":{"field":"s","type":"nominal"},"shape":{"field":"s","type":"nominal"},"size":{"field":"p","type":"nominal","scale":{"domain":[0,3],"range":[65,95]},"legend":null}}}
]}
],
"config":{
"font":"DejaVu Sans",
"view":{"stroke":"#000","strokeWidth":1},
"axis":{"grid":false,"domain":false,"ticks":true,"tickColor":"#000","tickSize":3.5,"tickWidth":0.8,"labelFont":"DejaVu Sans","labelFontSize":8,"labelColor":"#222","labelPadding":2,"titleFont":"DejaVu Serif","titleFontSize":10,"titleFontWeight":"normal","titleColor":"#000","titlePadding":4},
"title":{"font":"DejaVu Serif","fontSize":10.5,"fontWeight":"normal","offset":3,"color":"#000"},
"legend":{"orient":"right","offset":4,"padding":6,"strokeColor":"#cccccc","fillColor":"#ffffff","cornerRadius":3,"labelFont":"DejaVu Serif","labelFontSize":7.5,"labelColor":"#000","symbolStrokeWidth":1.2,"symbolOpacity":1,"rowPadding":2.5,"labelOffset":8,"symbolSize":100}
}
}
